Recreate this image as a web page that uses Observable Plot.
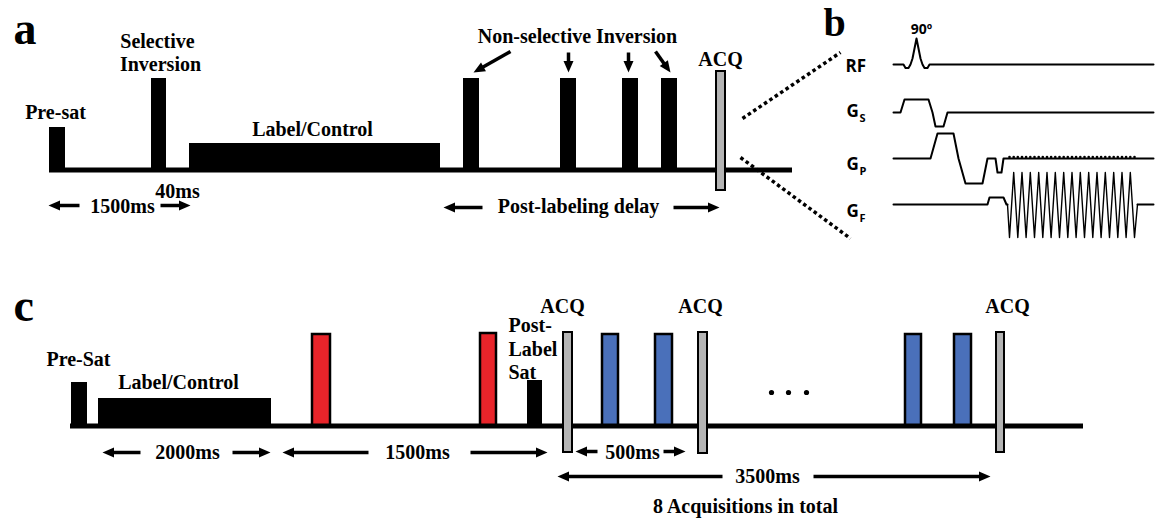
<!DOCTYPE html>
<html><head><meta charset="utf-8">
<script src="https://cdn.jsdelivr.net/npm/d3@7"></script>
<script src="https://cdn.jsdelivr.net/npm/@observablehq/plot@0.6"></script>
<style>body{margin:0;background:#fff}#chart svg{display:block}</style>
</head><body><div id="chart"></div>
<script>
// ---------- Panel a : timeline (diagram units) ----------
const aBaseline = [{x0: 49, x1: 792, y: 170}];
const aPulses = [
  {name: "Pre-sat", t0: 49, t1: 65, top: 127},
  {name: "Selective Inversion", t0: 151, t1: 166, top: 78},
  {name: "Label/Control", t0: 189, t1: 440, top: 143},
  {name: "NS1", t0: 463, t1: 479, top: 78},
  {name: "NS2", t0: 560, t1: 576, top: 78},
  {name: "NS3", t0: 622, t1: 638, top: 78},
  {name: "NS4", t0: 661, t1: 677, top: 78}
];
const aAcq = [{t0: 716, t1: 725, top: 71, bottom: 190}];
const aArrows = [
  {x1: 79, y1: 205, x2: 48, y2: 205}, {x1: 160, y1: 205, x2: 190, y2: 205},
  {x1: 482, y1: 207, x2: 443, y2: 207}, {x1: 673, y1: 207, x2: 719, y2: 207},
  {x1: 510, y1: 51, x2: 473, y2: 72}, {x1: 568, y1: 52, x2: 568, y2: 72},
  {x1: 628, y1: 52, x2: 628, y2: 72}, {x1: 655, y1: 51, x2: 670, y2: 72}
];
const aLabelsMid = [
  {text: "Selective", x: 157, y: 47}, {text: "Inversion", x: 160, y: 70},
  {text: "Pre-sat", x: 55, y: 118}, {text: "Label/Control", x: 312, y: 135},
  {text: "40ms", x: 177, y: 197}, {text: "1500ms", x: 122, y: 212},
  {text: "Non-selective Inversion", x: 577, y: 42}, {text: "ACQ", x: 720, y: 65},
  {text: "Post-labeling delay", x: 578, y: 212}
];

// ---------- Zoom guides ----------
const zoomGuides = [{x1: 742, y1: 118, x2: 840, y2: 52}, {x1: 740, y1: 157, x2: 850, y2: 238}];

// ---------- Panel b : pulse sequence ----------
const rfWave = [[893,64],[903,64],[905,67.5],[908,67.5],[910,64],[912,58],[916,38],[920,58],[922,64],[924,67.5],[927,67.5],[929,64],[1153,64]];
const gsWave = [[893,112],[900,112],[904,99],[928,99],[932,112],[935,126],[943,126],[947,112],[1153,112]];
const gpWave = [[893,158],[930,158],[937,133],[953,133],[958,158],[965,183],[982,183],[987,158],[995,158],[997,172],[1001,172],[1003,158],[1153,158]];
const gfWave = [[893,204],[987,204],[989,197],[1003,197],[1006,204],[1007,204]];
const gfTail = [[1137,204],[1153,204]];
// EPI readout lobe vertices (alternating negative / positive)
const epiVertices = [1009,1013.2,1017.3,1021.5,1025.6,1029.8,1034,1038.2,1042.3,1046.5,1050.6,1054.8,1059,1063.2,1067.3,1071.5,1075.6,1079.8,1084,1088.2,1092.3,1096.5,1100.6,1104.8,1109,1113.2,1117.3,1121.5,1125.6,1129.8,1134];
const epiLevels = {baseline: 204, neg: 237, pos: 172};
const bChannels = [
  {text: "RF", x: 845, y: 71}, {text: "G", x: 846, y: 116}, {text: "G", x: 846, y: 169}, {text: "G", x: 846, y: 216}
];
const bSubs = [{text: "S", x: 859, y: 121}, {text: "P", x: 859, y: 174}, {text: "F", x: 859, y: 221}];
const bFlip = [{text: "90º", x: 921, y: 33}];

// ---------- Panel c ----------
const cBaseline = [{x0: 70, x1: 1083, y: 426}];
const cBlack = [
  {name: "Pre-Sat", t0: 71, t1: 87, top: 382},
  {name: "Label/Control", t0: 98, t1: 271, top: 398},
  {name: "Post-Label Sat", t0: 527, t1: 542, top: 380}
];
const cRed = [{t0: 312, t1: 330, top: 334}, {t0: 480, t1: 496, top: 333}];
const cBlue = [{t0: 602, t1: 618, top: 334}, {t0: 655, t1: 672, top: 334}, {t0: 905, t1: 921, top: 334}, {t0: 954, t1: 971, top: 334}];
const cAcq = [{t0: 563, t1: 572, top: 332, bottom: 452}, {t0: 698, t1: 707, top: 332, bottom: 453}, {t0: 996, t1: 1004, top: 332, bottom: 452}];
const cEllipsis = [{x: 771, y: 392}, {x: 788, y: 392}, {x: 806, y: 392}];
const cArrows = [
  {x1: 140, y1: 452, x2: 102, y2: 452}, {x1: 232, y1: 452, x2: 270, y2: 452},
  {x1: 368, y1: 452, x2: 282, y2: 452}, {x1: 470, y1: 452, x2: 547, y2: 452},
  {x1: 597, y1: 451, x2: 575, y2: 451}, {x1: 663, y1: 451, x2: 685, y2: 451},
  {x1: 722, y1: 476, x2: 557, y2: 476}, {x1: 813, y1: 476, x2: 990, y2: 476}
];
const cLabelsMid = [
  {text: "Pre-Sat", x: 78, y: 365}, {text: "Label/Control", x: 178, y: 388},
  {text: "ACQ", x: 562, y: 312}, {text: "ACQ", x: 700, y: 312}, {text: "ACQ", x: 1007, y: 312},
  {text: "2000ms", x: 187, y: 458}, {text: "1500ms", x: 417, y: 458}, {text: "500ms", x: 632, y: 458},
  {text: "3500ms", x: 767, y: 482}, {text: "8 Acquisitions in total", x: 745, y: 512}
];
const cLabelsStart = [{text: "Post-", x: 508, y: 331}, {text: "Label", x: 508, y: 355}, {text: "Sat", x: 508, y: 378}];
const panelLetters = [{text: "a", x: 13, y: 43, size: 46}, {text: "b", x: 823, y: 35, size: 40}, {text: "c", x: 13, y: 320, size: 46}];

// ---------- derived geometry ----------
const toPts = (arr, ch) => arr.map(([x, y]) => ({x, y, ch}));
const bLines = [...toPts(rfWave, "RF"), ...toPts(gsWave, "GS"), ...toPts(gpWave, "GP"), ...toPts(gfWave, "GF"), ...toPts(gfTail, "GFt")];
const epi = [{x: 1007, y: epiLevels.baseline}, ...epiVertices.map((x, i) => ({x, y: i % 2 === 0 ? epiLevels.neg : epiLevels.pos})), {x: 1137, y: epiLevels.baseline}];
const blips = epiVertices.map(x => ({x, y: 156.5}));

const allArrows = [...aArrows, ...cArrows].map(d => {
  const dx = d.x2 - d.x1, dy = d.y2 - d.y1, L = Math.hypot(dx, dy), ux = dx / L, uy = dy / L;
  return {...d, sx2: d.x2 - ux * 9, sy2: d.y2 - uy * 9, hx: d.x2 - ux * 7.5, hy: d.y2 - uy * 7.5,
          rot: Math.atan2(dx, -dy) * 180 / Math.PI};
});
const headSymbol = {draw(ctx) { ctx.moveTo(0, -7.5); ctx.lineTo(-5, 4); ctx.lineTo(5, 4); ctx.closePath(); }};

const serif = "'Liberation Serif', 'Times New Roman', serif";
const sans = "'Open Sans', 'Noto Sans', sans-serif";
const txt = (data, o) => Plot.text(data, {x: "x", y: "y", text: "text", fill: "black", fontWeight: "bold", lineAnchor: "bottom", ...o});

const chart = Plot.plot({
  width: 1157, height: 519, margin: 0,
  x: {domain: [0, 1157], range: [0, 1157], axis: null},
  y: {domain: [0, 519], range: [0, 519], axis: null},
  style: {background: "white"},
  marks: [
    // panel a
    Plot.rect(aPulses, {x1: "t0", x2: "t1", y1: "top", y2: 170, fill: "black"}),
    Plot.rect(aBaseline, {x1: "x0", x2: "x1", y1: d => d.y - 2.5, y2: d => d.y + 2.5, fill: "black"}),
    Plot.rect(aAcq, {x1: "t0", x2: "t1", y1: "top", y2: "bottom", fill: "#b4b4b4", stroke: "black", strokeWidth: 2}),
    // zoom guides
    Plot.link(zoomGuides, {x1: "x1", y1: "y1", x2: "x2", y2: "y2", stroke: "black", strokeWidth: 3.5, strokeDasharray: "3.5,3"}),
    // panel b
    Plot.line(bLines, {x: "x", y: "y", z: "ch", stroke: "black", strokeWidth: 2, curve: "linear"}),
    Plot.line(epi, {x: "x", y: "y", stroke: "black", strokeWidth: 1.4}),
    Plot.dot(blips, {x: "x", y: "y", r: 1.3, fill: "black"}),
    // panel c
    Plot.rect(cBlack, {x1: "t0", x2: "t1", y1: "top", y2: 426, fill: "black"}),
    Plot.rect(cRed, {x1: "t0", x2: "t1", y1: "top", y2: 426, fill: "#e8242a", stroke: "black", strokeWidth: 2.5}),
    Plot.rect(cBlue, {x1: "t0", x2: "t1", y1: "top", y2: 426, fill: "#4a70ba", stroke: "black", strokeWidth: 2.5}),
    Plot.rect(cBaseline, {x1: "x0", x2: "x1", y1: d => d.y - 2.5, y2: d => d.y + 2.5, fill: "black"}),
    Plot.rect(cAcq, {x1: "t0", x2: "t1", y1: "top", y2: "bottom", fill: "#b4b4b4", stroke: "black", strokeWidth: 2}),
    Plot.dot(cEllipsis, {x: "x", y: "y", r: 2.6, fill: "black"}),
    // arrows
    Plot.link(allArrows, {x1: "x1", y1: "y1", x2: "sx2", y2: "sy2", stroke: "black", strokeWidth: 3.5}),
    Plot.dot(allArrows, {x: "hx", y: "hy", rotate: "rot", symbol: headSymbol, r: 5, fill: "black", stroke: "none"}),
    // text
    txt(aLabelsMid, {fontFamily: serif, fontSize: 20, textAnchor: "middle"}),
    txt(cLabelsMid, {fontFamily: serif, fontSize: 20, textAnchor: "middle"}),
    txt(cLabelsStart, {fontFamily: serif, fontSize: 20, textAnchor: "start"}),
    txt(panelLetters, {fontFamily: serif, fontSize: d => d.size, textAnchor: "start"}),
    txt(bChannels, {fontFamily: sans, fontSize: 17, textAnchor: "start"}),
    txt(bSubs, {fontFamily: sans, fontSize: 11, textAnchor: "start"}),
    txt(bFlip, {fontFamily: sans, fontSize: 14, textAnchor: "middle"})
  ]
});
document.getElementById("chart").append(chart);
</script>
</body></html>
